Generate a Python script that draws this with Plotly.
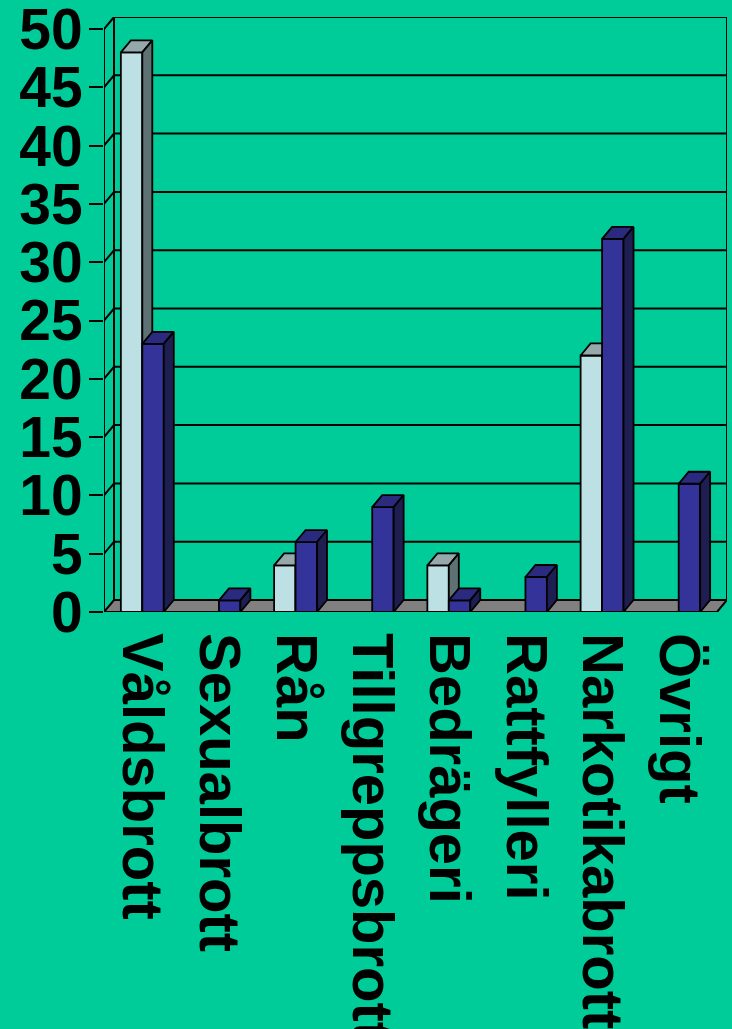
import plotly.graph_objects as go

# ---- data ----
categories = ["Våldsbrott", "Sexualbrott", "Rån", "Tillgreppsbrott",
              "Bedrägeri", "Rattfylleri", "Narkotikabrott", "Övrigt"]
series_light = [48, 0, 4, 0, 4, 0, 22, 0]
series_dark = [23, 1, 6, 9, 1, 3, 32, 11]
y_ticks = [0, 5, 10, 15, 20, 25, 30, 35, 40, 45, 50]

# ---- style / geometry ----
BG = "#00CC99"
BAR_W = 0.28      # width of one bar in category units
DX = 0.1305       # depth offset in x (category units)
DY = 1.03         # depth offset in y (value units)
Y_MAX = 50
N = len(categories)
FONT = "Liberation Sans, Arial, sans-serif"
LINE = dict(color="black", width=1.8)

fig = go.Figure()

# back wall / left wall gridlines
gx, gy = [], []
for v in y_ticks[1:]:
    gx += [0, DX, N + DX, None]
    gy += [v, v + DY, v + DY, None]
# wall edges
gx += [DX, DX, None, N + DX, N + DX, None, 0, 0, None]
gy += [DY, Y_MAX + DY, None, DY, Y_MAX + DY, None, 0, Y_MAX, None]
fig.add_trace(go.Scatter(x=gx, y=gy, mode="lines", line=dict(color="black", width=2),
                         hoverinfo="skip", showlegend=False))

# floor
fig.add_trace(go.Scatter(x=[0, N, N + DX, DX, 0], y=[0, 0, DY, DY, 0], mode="lines",
                         fill="toself", fillcolor="#808080", line=dict(color="black", width=2),
                         hoverinfo="skip", showlegend=False))


def bar_faces(values, offset):
    fx, fy, tx, ty, sx, sy = [], [], [], [], [], []
    for i, v in enumerate(values):
        if v <= 0:
            continue
        x0 = i + 0.5 + offset
        x1 = x0 + BAR_W
        fx += [x0, x1, x1, x0, x0, None]
        fy += [0, 0, v, v, 0, None]
        tx += [x0, x1, x1 + DX, x0 + DX, x0, None]
        ty += [v, v, v + DY, v + DY, v, None]
        sx += [x1, x1 + DX, x1 + DX, x1, x1, None]
        sy += [0, DY, v + DY, v, 0, None]
    return (fx, fy), (tx, ty), (sx, sy)


for values, offset, cols in [
    (series_light, -BAR_W, ("#BCE0E4", "#95A9AC", "#5E7173")),
    (series_dark, 0.0, ("#333399", "#2A2A7E", "#1E1E52")),
]:
    faces = bar_faces(values, offset)
    for (xs, ys), c in zip(faces, cols):
        fig.add_trace(go.Scatter(x=xs, y=ys, mode="lines", fill="toself", fillcolor=c,
                                 line=LINE, hoverinfo="skip", showlegend=False))

fig.update_layout(
    width=732, height=1029,
    paper_bgcolor=BG, plot_bgcolor=BG,
    margin=dict(l=104, r=5, t=17, b=417),
    showlegend=False,
    template="none",
)
fig.update_xaxes(
    range=[0, N + DX], showgrid=False, zeroline=False, showline=False,
    tickmode="array", tickvals=[i + 0.5 for i in range(N)], ticktext=categories,
    tickangle=90, ticks="", automargin=False, ticklabeloverflow="allow",
    ticklabelstandoff=20,
    tickfont=dict(family=FONT, size=58, color="black", weight="bold"),
)
fig.update_yaxes(
    range=[0, Y_MAX + DY], showgrid=False, zeroline=False, showline=False,
    tickmode="array", tickvals=y_ticks, ticktext=[str(v) for v in y_ticks],
    ticks="outside", ticklen=14, tickwidth=2, tickcolor="black", automargin=False,
    ticklabeloverflow="allow", ticklabelstandoff=-5,
    tickfont=dict(family=FONT, size=57, color="black", weight="bold"),
)

fig.write_html(
    "out.html",
    config={"displayModeBar": False, "staticPlot": True},
    post_script="document.body.style.margin='0';document.body.style.background='" + BG + "';",
)
